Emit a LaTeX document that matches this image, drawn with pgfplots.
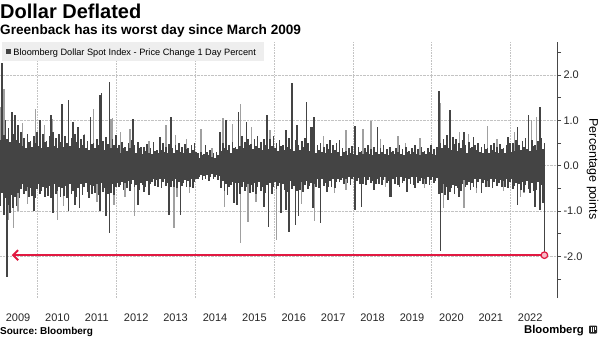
\documentclass[border=0pt]{standalone}
\usepackage{pgfplots}
\pgfplotsset{compat=1.18}
\usepackage{pgfplotstable}
\usepackage{fontspec}
\setmainfont{Liberation Sans}
\usetikzlibrary{arrows.meta}
\definecolor{bardark}{RGB}{68,68,68}
\definecolor{barlight}{RGB}{160,160,160}
\definecolor{bbred}{RGB}{225,25,65}
\definecolor{legbg}{RGB}{238,238,238}
\definecolor{gridc}{RGB}{195,195,195}

\pgfplotstableread{
x hi lo
2009.02 0.75 -0.68
2009.06 0.56 -0.90
2009.10 2.26 -0.60
2009.14 0.68 -1.09
2009.18 1.01 -0.71
2009.22 0.60 -2.45
2009.26 0.83 -0.86
2009.30 0.53 -1.05
2009.34 1.19 -0.64
2009.38 0.71 -0.94
2009.42 1.11 -0.68
2009.46 0.56 -0.90
2009.50 0.90 -0.60
2009.54 0.50 -0.72
2009.58 0.74 -0.52
2009.62 0.44 -0.41
2009.66 0.61 -0.63
2009.70 0.39 -0.55
2009.74 0.69 -0.47
2009.78 0.52 -0.69
2009.82 0.55 -0.50
2009.86 0.41 -0.66
2009.90 0.66 -1.00
2009.94 0.50 -0.72
2009.98 0.74 -0.52
2010.02 0.44 -0.41
2010.06 1.01 -0.63
2010.10 0.39 -0.55
2010.14 0.69 -0.47
2010.18 0.52 -0.69
2010.22 0.55 -0.50
2010.26 0.41 -0.66
2010.30 0.66 -0.44
2010.34 1.11 -0.72
2010.38 0.74 -1.05
2010.42 0.44 -0.41
2010.46 0.61 -0.63
2010.50 0.39 -0.55
2010.54 0.69 -0.47
2010.58 0.52 -0.69
2010.62 1.37 -0.50
2010.66 0.41 -0.66
2010.70 0.66 -0.44
2010.74 0.50 -0.72
2010.78 1.46 -1.01
2010.82 0.44 -0.41
2010.86 0.61 -0.63
2010.90 0.97 -0.55
2010.94 0.69 -0.87
2010.98 0.52 -0.69
2011.02 0.86 -0.50
2011.06 0.38 -0.94
2011.10 0.60 -0.40
2011.14 0.45 -0.65
2011.18 0.68 -0.48
2011.22 0.40 -0.38
2011.26 0.55 -0.58
2011.30 0.35 -0.72
2011.34 1.08 -0.43
2011.38 0.48 -0.63
2011.42 0.50 -0.45
2011.46 0.38 -0.60
2011.50 0.60 -0.40
2011.54 0.45 -0.65
2011.58 1.56 -1.01
2011.62 1.60 -0.38
2011.66 0.55 -0.58
2011.70 0.35 -0.50
2011.74 0.63 -1.12
2011.78 0.48 -0.63
2011.82 1.85 -1.49
2011.86 0.38 -0.60
2011.90 0.60 -0.40
2011.94 0.45 -0.65
2011.98 0.68 -0.48
2012.02 0.40 -0.38
2012.06 0.46 -0.48
2012.10 0.29 -0.42
2012.14 0.53 -0.36
2012.18 0.40 -0.53
2012.22 0.42 -0.38
2012.26 0.32 -0.50
2012.30 0.50 -0.34
2012.34 0.38 -0.55
2012.38 0.57 -0.40
2012.42 1.02 -0.32
2012.46 0.46 -0.48
2012.50 0.29 -0.42
2012.54 0.53 -0.87
2012.58 0.40 -0.53
2012.62 0.42 -0.38
2012.66 0.26 -0.42
2012.70 0.42 -0.57
2012.74 0.32 -0.46
2012.78 0.47 -0.33
2012.82 0.28 -0.65
2012.86 0.39 -0.40
2012.90 0.25 -0.35
2012.94 0.53 -0.30
2012.98 0.33 -0.44
2013.02 0.35 -0.32
2013.06 0.29 -0.46
2013.10 0.64 -0.30
2013.14 0.34 -0.49
2013.18 0.51 -0.36
2013.22 0.30 -0.29
2013.26 0.42 -0.44
2013.30 0.27 -0.38
2013.34 0.48 -1.09
2013.38 1.07 -0.48
2013.42 0.38 -0.34
2013.46 0.29 -0.46
2013.50 0.46 -0.30
2013.54 0.34 -0.49
2013.58 0.51 -0.36
2013.62 0.30 -1.09
2013.66 0.42 -0.44
2013.70 0.27 -0.38
2013.74 0.48 -0.32
2013.78 0.36 -0.48
2013.82 0.38 -0.34
2013.86 0.29 -0.46
2013.90 0.46 -0.30
2013.94 0.34 -0.49
2013.98 0.51 -0.36
2014.02 0.30 -0.29
2014.06 0.28 -0.29
2014.10 0.18 -0.25
2014.14 0.31 -0.21
2014.18 0.24 -0.31
2014.22 0.25 -0.23
2014.26 0.46 -0.30
2014.30 0.30 -0.20
2014.34 0.23 -0.33
2014.38 0.34 -0.24
2014.42 0.20 -0.19
2014.46 0.28 -0.29
2014.50 0.18 -0.25
2014.54 0.31 -0.21
2014.58 0.24 -0.31
2014.62 0.75 -0.23
2014.66 0.32 -0.50
2014.70 0.50 -0.34
2014.74 0.38 -0.55
2014.78 1.00 -0.40
2014.82 0.34 -0.65
2014.86 0.46 -0.48
2014.90 0.29 -0.42
2014.94 0.53 -0.36
2014.98 0.40 -0.83
2015.02 0.42 -0.38
2015.06 0.36 -0.87
2015.10 1.19 -0.38
2015.14 0.43 -0.62
2015.18 0.65 -0.46
2015.22 0.38 -0.36
2015.26 0.53 -0.55
2015.30 0.97 -0.48
2015.34 0.60 -0.41
2015.38 0.46 -0.60
2015.42 0.48 -0.43
2015.46 0.36 -0.58
2015.50 0.58 -0.38
2015.54 0.43 -0.62
2015.58 0.65 -0.46
2015.62 0.38 -0.36
2015.66 0.53 -0.55
2015.70 0.34 -0.48
2015.74 0.60 -0.91
2015.78 0.46 -0.60
2015.82 1.12 -0.43
2015.86 0.36 -1.35
2015.90 0.58 -0.38
2015.94 0.43 -0.62
2015.98 0.65 -0.46
2016.02 0.38 -0.36
2016.06 0.50 -0.52
2016.10 0.32 -0.45
2016.14 0.56 -0.38
2016.18 0.43 -1.05
2016.22 0.45 -0.41
2016.26 0.34 -0.54
2016.30 0.79 -0.98
2016.34 0.41 -0.59
2016.38 0.61 -1.46
2016.42 0.36 -0.34
2016.46 1.83 -0.52
2016.50 0.32 -0.45
2016.54 0.56 -1.31
2016.58 0.90 -0.56
2016.62 0.45 -1.12
2016.66 0.34 -0.54
2016.70 0.54 -0.36
2016.74 0.41 -0.59
2016.78 0.61 -0.43
2016.82 1.41 -0.34
2016.86 0.50 -0.52
2016.90 0.32 -0.45
2016.94 0.86 -0.38
2016.98 0.86 -0.94
2017.02 1.07 -0.41
2017.06 0.29 -0.46
2017.10 0.46 -0.30
2017.14 0.34 -0.49
2017.18 0.51 -1.27
2017.22 0.30 -0.29
2017.26 0.42 -0.44
2017.30 0.27 -0.38
2017.34 0.48 -0.57
2017.38 0.36 -0.48
2017.42 0.57 -0.34
2017.46 0.29 -0.46
2017.50 0.46 -0.30
2017.54 0.34 -0.49
2017.58 0.51 -0.36
2017.62 0.30 -0.29
2017.66 0.57 -0.37
2017.70 0.22 -0.32
2017.74 0.40 -0.27
2017.78 0.30 -0.40
2017.82 0.32 -0.29
2017.86 0.24 -0.38
2017.90 0.38 -0.26
2017.94 0.29 -0.42
2017.98 0.43 -0.30
2018.02 0.26 -0.24
2018.06 0.87 -0.98
2018.10 0.23 -0.33
2018.14 0.41 -0.28
2018.18 0.31 -0.41
2018.22 0.33 -0.91
2018.26 0.25 -0.40
2018.30 0.40 -0.26
2018.34 0.30 -0.43
2018.38 0.45 -0.31
2018.42 0.26 -0.25
2018.46 0.36 -0.38
2018.50 0.23 -0.33
2018.54 0.41 -0.54
2018.58 0.31 -0.41
2018.62 0.86 -0.30
2018.66 0.25 -0.40
2018.70 0.40 -0.26
2018.74 0.30 -0.43
2018.78 0.45 -0.31
2018.82 0.26 -0.25
2018.86 0.36 -0.38
2018.90 0.23 -0.33
2018.94 0.41 -0.68
2018.98 0.31 -0.68
2019.02 0.33 -0.30
2019.06 0.25 -0.40
2019.10 0.40 -0.26
2019.14 0.30 -0.43
2019.18 0.45 -0.46
2019.22 0.26 -0.25
2019.26 0.36 -0.38
2019.30 0.23 -0.33
2019.34 0.41 -0.28
2019.38 0.31 -0.57
2019.42 0.33 -0.30
2019.46 0.25 -0.40
2019.50 0.40 -0.26
2019.54 0.30 -0.43
2019.58 0.45 -0.50
2019.62 0.26 -0.25
2019.66 0.36 -0.38
2019.70 0.23 -0.33
2019.74 0.41 -0.28
2019.78 0.31 -0.41
2019.82 0.33 -0.30
2019.86 0.25 -0.40
2019.90 0.40 -0.26
2019.94 0.30 -0.43
2019.98 0.45 -0.31
2020.02 0.26 -0.25
2020.06 0.36 -0.38
2020.10 0.23 -0.33
2020.14 0.41 -0.28
2020.18 1.65 -0.63
2020.22 0.50 -1.88
2020.26 0.38 -0.60
2020.30 0.60 -0.40
2020.34 0.45 -0.65
2020.38 0.68 -0.48
2020.42 0.40 -0.76
2020.46 1.23 -0.58
2020.50 0.35 -0.50
2020.54 0.63 -0.43
2020.58 0.48 -0.63
2020.62 0.60 -0.45
2020.66 0.32 -0.50
2020.70 0.50 -0.68
2020.74 0.38 -0.55
2020.78 0.57 -0.40
2020.82 0.75 -0.32
2020.86 0.46 -0.48
2020.90 0.29 -0.42
2020.94 0.53 -0.36
2020.98 0.40 -0.53
2021.02 0.42 -0.38
2021.06 0.64 -0.46
2021.10 0.46 -0.30
2021.14 0.34 -0.49
2021.18 0.51 -0.36
2021.22 0.30 -0.29
2021.26 0.42 -0.61
2021.30 0.27 -0.38
2021.34 0.48 -0.32
2021.38 0.36 -0.48
2021.42 0.38 -0.34
2021.46 0.29 -0.46
2021.50 0.46 -0.30
2021.54 0.34 -0.49
2021.58 0.51 -0.36
2021.62 0.30 -0.29
2021.66 0.42 -0.44
2021.70 0.27 -0.38
2021.74 0.48 -0.32
2021.78 0.36 -0.48
2021.82 0.38 -0.34
2021.86 0.29 -0.46
2021.90 0.46 -0.30
2021.94 0.64 -0.49
2021.98 0.51 -0.36
2022.02 0.30 -0.29
2022.06 0.50 -0.52
2022.10 0.32 -0.45
2022.14 0.56 -0.38
2022.18 0.86 -0.87
2022.22 0.45 -0.41
2022.26 0.34 -0.54
2022.30 0.54 -0.36
2022.34 0.41 -0.59
2022.38 0.61 -0.43
2022.42 0.36 -0.34
2022.46 1.12 -0.52
2022.50 0.32 -0.61
2022.54 0.56 -0.38
2022.58 0.43 -0.56
2022.62 0.45 -0.91
2022.66 0.34 -0.54
2022.70 0.54 -0.36
2022.74 1.29 -0.98
2022.78 0.61 -0.43
2022.82 0.36 -0.83
2022.86 0.50 -1.98
}\dollardata

\pgfplotstableread{
x y
2009.06 1.30
2009.14 1.70
2009.26 -1.20
2009.38 -1.38
2009.50 -1.00
2009.62 0.95
2009.74 -0.85
2009.94 1.26
2010.18 0.90
2010.38 1.04
2010.50 -1.19
2010.66 -0.90
2011.18 0.71
2011.42 1.26
2011.50 -0.80
2011.86 1.04
2011.90 1.06
2011.94 -0.87
2012.10 0.75
2012.22 -0.70
2012.34 0.82
2012.46 -1.12
2012.82 0.55
2013.26 0.90
2013.46 -1.38
2013.50 0.68
2013.54 -0.68
2013.78 0.60
2013.86 -0.60
2014.14 0.80
2014.42 0.40
2014.70 1.06
2014.74 -0.91
2014.94 0.93
2015.14 1.37
2015.14 -1.71
2015.34 -1.24
2015.42 0.85
2015.54 -0.80
2015.90 0.79
2016.06 -1.64
2016.70 -0.85
2017.02 -1.23
2017.26 0.65
2017.54 -0.60
2017.82 0.79
2017.82 -0.54
2018.26 0.82
2018.46 0.99
2018.70 0.60
2018.82 -0.46
2019.14 0.65
2019.34 0.50
2019.70 0.61
2019.82 -0.50
2020.22 1.38
2020.30 -0.94
2020.70 0.75
2020.82 -0.94
2020.94 0.70
2021.14 -0.60
2021.42 0.88
2021.42 -0.46
2021.66 0.60
2021.82 -0.55
2022.10 0.75
2022.26 -0.70
2022.34 -0.61
2022.54 1.01
2022.66 1.08
}\lightdata

\begin{document}
\begin{tikzpicture}[x=1bp,y=1bp]
\path[use as bounding box] (0,0) rectangle (600,338);
\begin{axis}[
  at={(0bp,40bp)}, anchor=south west,
  scale only axis, width=557bp, height=256bp,
  xmin=2009.043, xmax=2023.18, ymin=-2.92, ymax=2.73,
  axis x line*=bottom, axis y line*=right,
  x axis line style={draw=none},
  y axis line style={draw=black!72, line width=0.8bp},
  xtick={2009.5,2010.5,2011.5,2012.5,2013.5,2014.5,2015.5,2016.5,2017.5,2018.5,2019.5,2020.5,2021.5,2022.5},
  xticklabels={2009,2010,2011,2012,2013,2014,2015,2016,2017,2018,2019,2020,2021,2022},
  xtick style={draw=none},
  xticklabel style={font=\fontsize{11bp}{13bp}\selectfont, text=black!85, yshift=-8bp},
  extra x ticks={2010,2012,2014,2016,2018,2020,2022},
  extra x tick labels={},
  extra x tick style={grid=major, major grid style={densely dotted, draw=gridc, line width=0.6bp}},
  ytick={-2,-1,0,1,2},
  yticklabels={-2.0,-1.0,0.0,1.0,2.0},
  minor ytick={-2.5,-1.5,-0.5,0.5,1.5,2.5},
  tick align=outside,
  major tick length=4bp, minor tick length=4bp,
  ytick style={draw=black!72, line width=0.7bp},
  minor tick style={draw=black!72, line width=0.7bp},
  yticklabel style={font=\fontsize{11bp}{13bp}\selectfont, text=black!85, xshift=-1bp},
  ymajorgrids=true,
  major grid style={densely dotted, draw=gridc, line width=0.6bp},
  clip=true,
]
\addplot[ycomb, draw=barlight, line width=1.4bp, mark=none] table[x=x,y=y]{\lightdata};
\addplot[ycomb, draw=bardark, line width=1.65bp, mark=none] table[x=x,y=hi]{\dollardata};
\addplot[ycomb, draw=bardark, line width=1.65bp, mark=none] table[x=x,y=lo]{\dollardata};
\addplot[draw=bbred, color=bbred, solid, mark=none, line width=2bp, -{Straight Barb[length=5bp,width=10bp]}] coordinates {(2022.86,-1.975) (2009.34,-1.975)};
\addplot[only marks, mark=*, mark size=3.3bp, mark options={fill=bbred!30, draw=bbred, line width=1.2bp}] coordinates {(2022.86,-1.975)};
\end{axis}
% titles
\node[anchor=base west, inner sep=0] at (0,319.7) {\fontsize{20bp}{22bp}\selectfont\bfseries Dollar Deflated};
\node[anchor=base west, inner sep=0] at (0,303.6) {\fontsize{13.6bp}{15bp}\selectfont\bfseries Greenback has its worst day since March 2009};
% legend
\fill[legbg] (2,277.5) rectangle (264,296.3);
\fill[bardark] (6,284) rectangle (11,289);
\node[anchor=base west, inner sep=0] at (13.3,283) {\fontsize{9.2bp}{11bp}\selectfont Bloomberg Dollar Spot Index - Price Change 1 Day Percent};
% y label
\node[rotate=-90, inner sep=0] at (592.5,169) {\fontsize{12.5bp}{14bp}\selectfont Percentage points};
% footer
\node[anchor=base west, inner sep=0] at (0,3.5) {\fontsize{10bp}{12bp}\selectfont\bfseries Source:\ Bloomberg};
\node[anchor=base east, inner sep=0] at (584,5) {\fontsize{11.3bp}{13bp}\selectfont\bfseries Bloomberg};
\fill[black!85, rounded corners=0.8bp] (589,4.5) rectangle (597,12.5);
\fill[white] (590.8,6.2) rectangle (591.8,10.8);
\fill[white] (593,6.2) rectangle (594,10.8);
\fill[white] (594.8,8) rectangle (595.6,10.8);
\end{tikzpicture}
\end{document}
